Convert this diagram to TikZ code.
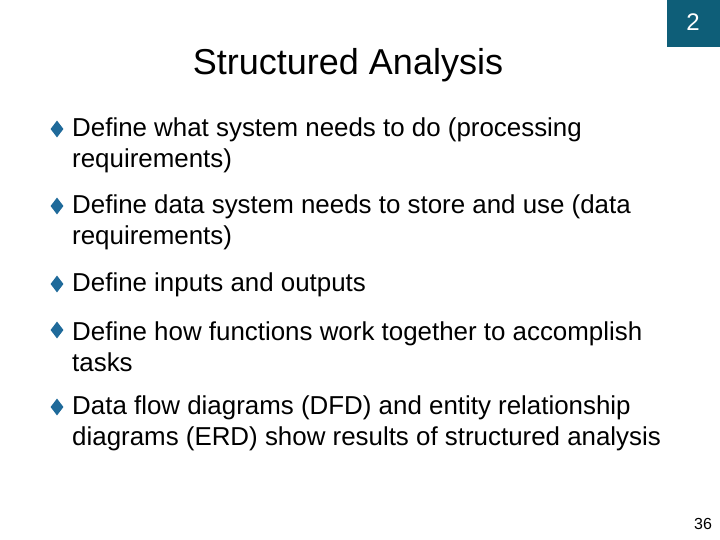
\documentclass[tikz,border=0pt]{standalone}
\usepackage{fontspec}
\setmainfont{Liberation Sans}
\usetikzlibrary{shapes.geometric}
\definecolor{teal1}{HTML}{0E5E78}
\definecolor{bul}{HTML}{1F6A9A}
\begin{document}
\begin{tikzpicture}[x=1pt,y=-1pt,
  txt/.style={anchor=west,inner sep=0,font=\fontsize{25.9}{31}\selectfont,align=left},
  bl/.style={diamond,fill=bul,inner sep=0,minimum width=13,minimum height=17}]
\useasboundingbox (0,0) rectangle (720,540);
\fill[white] (0,0) rectangle (720,540);
\fill[teal1] (667,0) rectangle (720,47);
\node[text=white,font=\fontsize{24}{26}\selectfont] (pg) at (693,22) {2};
\node[font=\fontsize{36}{40}\selectfont] (title) at (348,65) {Structured Analysis};
\foreach \y/\t [count=\i] in {145.5/{Define what system needs to do (processing\\requirements)},
  222.5/{Define data system needs to store and use (data\\requirements)},
  285/{Define inputs and outputs},
  346.5/{Define how functions work together to accomplish\\tasks},
  423.5/{Data flow diagrams (DFD) and entity relationship\\diagrams (ERD) show results of structured analysis}}{
  \node[txt] (b\i) at (72,\y) {\t};
}
\foreach \y [count=\i] in {129,206,284,330,407}{
  \node[bl] (d\i) at (57,\y) {};
}
\node[font=\fontsize{16}{18}\selectfont] (num) at (703,524) {36};
\end{tikzpicture}
\end{document}
